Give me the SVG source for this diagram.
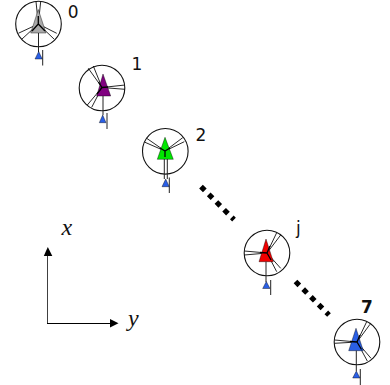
<svg xmlns="http://www.w3.org/2000/svg" width="390" height="385" viewBox="0 0 390 385">
<style>
.c{fill:#fff;stroke:#111;stroke-width:1.1}
.t{stroke:#000;stroke-width:.4}
.s{fill:none;stroke:#111;stroke-width:.9}
.h{fill:none;stroke:#000;stroke-width:1.3}
.stem{fill:none;stroke:#222;stroke-width:1}
.b{fill:#2a5fe6;stroke:#000;stroke-width:.4}
.l{font-family:"DejaVu Sans",sans-serif;font-size:17px;fill:#111}
.m{font-family:"Liberation Serif",serif;font-style:italic;font-size:24px;fill:#111}
.d{fill:none;stroke:#000;stroke-width:5.2;stroke-dasharray:5.4 5.5}
.a{fill:none;stroke:#000;stroke-width:1}
</style>
<g id="connectors">
<path class="d" d="M201 186.600L234 219.600"/>
<path class="d" d="M295.500 281.500L329 315"/>
<path class="a" d="M47.500 323.500V254" stroke-opacity=".75"/>
<path class="a" d="M47 323.500H111"/>
<path d="M47.800 247L52.300 256H43.800Z"/>
<path d="M118.500 323.300L110 319V327.500Z"/>
</g>
<g id="node-0">
<circle class="c" cx="38.500" cy="24" r="22.800"/>
<path class="s" d="M36 1.500L38.300 24L40.700 1.500M18.300 33.300L38.300 24L21.700 39.300M56.700 33.300L38.300 24L54.300 39.300"/>
<path class="t" fill="#aaa" d="M38.300 9.500L46 33H30.700Z"/>
<path class="h" d="M38.300 16V24L32 31M38.300 24L45 31"/>
<path class="stem" d="M38.500 33V52"/>
<path class="b" d="M38.700 51.500L42.300 59H35Z"/>
<path class="stem" d="M42.700 50V65.500"/>
<text class="l" x="67.800" y="18">0</text>
</g>
<g id="node-1">
<circle class="c" cx="102" cy="88" r="22.800"/>
<path class="s" d="M88.300 68.300L102 87.500L93.300 66M125 85L102 87.500L125 89.300M87.300 105L102 87.500L91.700 107.300"/>
<path class="t" fill="#800080" d="M103 74L110.700 96H96.700Z"/>
<path class="h" d="M98.500 82L102 87.500L108 87M102 87.500L97 94"/>
<path class="stem" d="M103 96V115"/>
<path class="b" d="M102.700 115L106 122.700H99.300Z"/>
<path class="stem" d="M107 113V129"/>
<text class="l" x="131.500" y="69.500">1</text>
</g>
<g id="node-2">
<circle class="c" cx="165.300" cy="151.300" r="22.800"/>
<path class="s" d="M146.700 138.300L165 151L145 142.300M182.700 137.700L165 151L184.300 141.700"/>
<path class="t" fill="#00e600" d="M165 137.300L173.300 159.300H157.300Z"/>
<path class="h" d="M160 148L165 151L170 148M165 151V157"/>
<path class="stem" d="M164.300 159V179M167.300 159V179"/>
<path class="b" d="M165.700 179L169.300 186.700H162Z"/>
<path class="stem" d="M169.300 177.500V193"/>
<text class="l" x="195.500" y="141">2</text>
</g>
<g id="node-j">
<circle class="c" cx="267" cy="253" r="22.800"/>
<path class="s" d="M276.700 232.700L267 253L280.700 235M244.300 251L267 253L244.300 255M276.700 271.700L267 253L280.700 268.300"/>
<path class="t" fill="#f00000" d="M266 239L273.300 261.700H259Z"/>
<path class="h" d="M270 246L267 253L260 252.500M267 253L271 260"/>
<path class="stem" d="M266 261.700V282"/>
<path class="b" d="M266.300 281.500L270 288.500H262.700Z"/>
<path class="stem" d="M270.700 280V295"/>
<text class="l" x="296" y="233.500">j</text>
</g>
<g id="node-7">
<circle class="c" cx="357" cy="342" r="22.800"/>
<path class="s" d="M366.700 321.700L357 342L370 324.300M334.700 340L357 342L334.700 343.300M367.300 361L357 342L371 358.300"/>
<path class="t" fill="#2a5fe6" d="M356 328.300L363.300 350.700H348.700Z"/>
<path class="h" d="M360 335L357 342L350 341.500M357 342L361.500 349.500"/>
<path class="stem" d="M356.300 350.700V371"/>
<path class="b" d="M356.300 371L360 378H352.700Z"/>
<path class="stem" d="M360.300 369V385"/>
<text class="l" x="361" y="312.500" font-weight="bold">7</text>
</g>
<g id="labels">
<text class="m" x="61.500" y="235">x</text>
<text class="m" x="128" y="326">y</text>
</g>
</svg>
